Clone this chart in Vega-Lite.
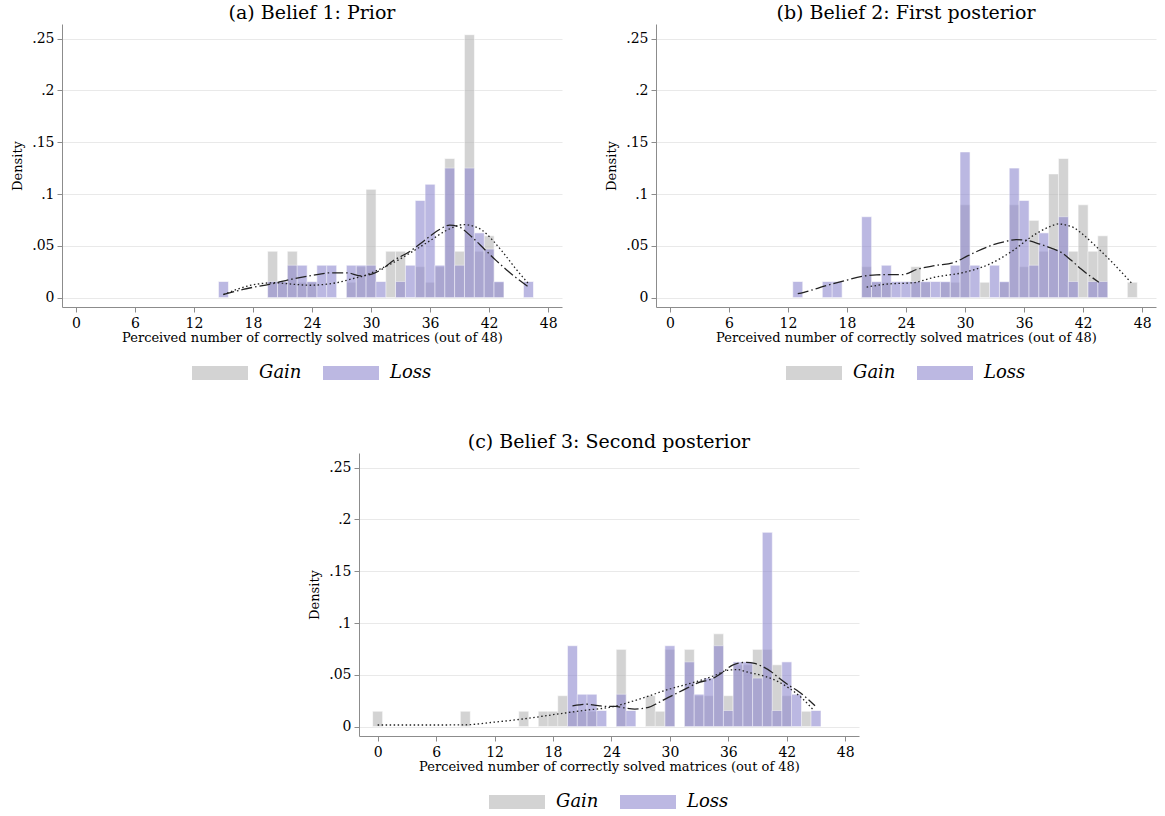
{
  "$schema": "https://vega.github.io/schema/vega-lite/v6.json",
  "padding": {"left": 11, "top": 4, "right": 5, "bottom": 5},
  "config": {
    "font": "DejaVu Serif",
    "view": {"stroke": null},
    "title": {"fontSize": 19, "fontWeight": "normal", "color": "#000", "offset": 1, "anchor": "middle"},
    "axis": {"domainColor": "#8c8c8c", "tickColor": "#8c8c8c", "tickSize": 5, "labelFontSize": 14, "labelColor": "#000", "titleFontSize": 13, "titleFontWeight": "normal", "titleColor": "#000", "labelFont": "DejaVu Serif", "titleFont": "DejaVu Serif"},
    "axisX": {"grid": false, "labelPadding": 4, "titlePadding": 1, "labelFlush": false},
    "axisY": {"grid": true, "gridColor": "#e9e9e9", "labelPadding": 3, "titlePadding": 7},
    "legend": {"layout": {"bottom": {"anchor": "middle"}}}
  },
  "datasets": {
    "bars": [
      {"p":"a","g":"Gain","k":20,"d":0.0448},{"p":"a","g":"Gain","k":21,"d":0.0149},{"p":"a","g":"Gain","k":22,"d":0.0448},{"p":"a","g":"Gain","k":23,"d":0.0149},{"p":"a","g":"Gain","k":24,"d":0.0149},{"p":"a","g":"Gain","k":28,"d":0.0149},{"p":"a","g":"Gain","k":29,"d":0.0299},{"p":"a","g":"Gain","k":30,"d":0.1045},{"p":"a","g":"Gain","k":32,"d":0.0448},{"p":"a","g":"Gain","k":33,"d":0.0448},{"p":"a","g":"Gain","k":35,"d":0.0299},{"p":"a","g":"Gain","k":36,"d":0.0149},{"p":"a","g":"Gain","k":37,"d":0.0299},{"p":"a","g":"Gain","k":38,"d":0.1343},{"p":"a","g":"Gain","k":39,"d":0.0448},{"p":"a","g":"Gain","k":40,"d":0.2537},{"p":"a","g":"Gain","k":41,"d":0.0448},{"p":"a","g":"Gain","k":42,"d":0.0597},{"p":"a","g":"Gain","k":43,"d":0.0149},
      {"p":"a","g":"Loss","k":15,"d":0.0156},{"p":"a","g":"Loss","k":20,"d":0.0156},{"p":"a","g":"Loss","k":21,"d":0.0156},{"p":"a","g":"Loss","k":22,"d":0.0313},{"p":"a","g":"Loss","k":23,"d":0.0313},{"p":"a","g":"Loss","k":24,"d":0.0156},{"p":"a","g":"Loss","k":25,"d":0.0313},{"p":"a","g":"Loss","k":26,"d":0.0313},{"p":"a","g":"Loss","k":28,"d":0.0313},{"p":"a","g":"Loss","k":29,"d":0.0313},{"p":"a","g":"Loss","k":30,"d":0.0313},{"p":"a","g":"Loss","k":31,"d":0.0156},{"p":"a","g":"Loss","k":33,"d":0.0156},{"p":"a","g":"Loss","k":34,"d":0.0313},{"p":"a","g":"Loss","k":35,"d":0.0938},{"p":"a","g":"Loss","k":36,"d":0.1094},{"p":"a","g":"Loss","k":37,"d":0.0313},{"p":"a","g":"Loss","k":38,"d":0.125},{"p":"a","g":"Loss","k":39,"d":0.0313},{"p":"a","g":"Loss","k":40,"d":0.125},{"p":"a","g":"Loss","k":41,"d":0.0625},{"p":"a","g":"Loss","k":42,"d":0.0469},{"p":"a","g":"Loss","k":43,"d":0.0156},{"p":"a","g":"Loss","k":46,"d":0.0156},
      {"p":"b","g":"Gain","k":20,"d":0.0299},{"p":"b","g":"Gain","k":21,"d":0.0149},{"p":"b","g":"Gain","k":22,"d":0.0149},{"p":"b","g":"Gain","k":25,"d":0.0299},{"p":"b","g":"Gain","k":26,"d":0.0149},{"p":"b","g":"Gain","k":28,"d":0.0149},{"p":"b","g":"Gain","k":29,"d":0.0149},{"p":"b","g":"Gain","k":30,"d":0.0896},{"p":"b","g":"Gain","k":32,"d":0.0149},{"p":"b","g":"Gain","k":34,"d":0.0149},{"p":"b","g":"Gain","k":35,"d":0.0896},{"p":"b","g":"Gain","k":36,"d":0.0299},{"p":"b","g":"Gain","k":37,"d":0.0746},{"p":"b","g":"Gain","k":38,"d":0.0448},{"p":"b","g":"Gain","k":39,"d":0.1194},{"p":"b","g":"Gain","k":40,"d":0.1343},{"p":"b","g":"Gain","k":41,"d":0.0448},{"p":"b","g":"Gain","k":42,"d":0.0896},{"p":"b","g":"Gain","k":43,"d":0.0448},{"p":"b","g":"Gain","k":44,"d":0.0597},{"p":"b","g":"Gain","k":47,"d":0.0149},
      {"p":"b","g":"Loss","k":13,"d":0.0156},{"p":"b","g":"Loss","k":16,"d":0.0156},{"p":"b","g":"Loss","k":17,"d":0.0156},{"p":"b","g":"Loss","k":20,"d":0.0781},{"p":"b","g":"Loss","k":21,"d":0.0156},{"p":"b","g":"Loss","k":22,"d":0.0313},{"p":"b","g":"Loss","k":23,"d":0.0156},{"p":"b","g":"Loss","k":24,"d":0.0156},{"p":"b","g":"Loss","k":25,"d":0.0156},{"p":"b","g":"Loss","k":26,"d":0.0156},{"p":"b","g":"Loss","k":27,"d":0.0156},{"p":"b","g":"Loss","k":28,"d":0.0156},{"p":"b","g":"Loss","k":29,"d":0.0313},{"p":"b","g":"Loss","k":30,"d":0.1406},{"p":"b","g":"Loss","k":31,"d":0.0313},{"p":"b","g":"Loss","k":33,"d":0.0313},{"p":"b","g":"Loss","k":34,"d":0.0156},{"p":"b","g":"Loss","k":35,"d":0.125},{"p":"b","g":"Loss","k":36,"d":0.0938},{"p":"b","g":"Loss","k":37,"d":0.0313},{"p":"b","g":"Loss","k":38,"d":0.0625},{"p":"b","g":"Loss","k":39,"d":0.0469},{"p":"b","g":"Loss","k":40,"d":0.0781},{"p":"b","g":"Loss","k":41,"d":0.0156},{"p":"b","g":"Loss","k":43,"d":0.0156},{"p":"b","g":"Loss","k":44,"d":0.0156},
      {"p":"c","g":"Gain","k":0,"d":0.0149},{"p":"c","g":"Gain","k":9,"d":0.0149},{"p":"c","g":"Gain","k":15,"d":0.0149},{"p":"c","g":"Gain","k":17,"d":0.0149},{"p":"c","g":"Gain","k":18,"d":0.0149},{"p":"c","g":"Gain","k":19,"d":0.0299},{"p":"c","g":"Gain","k":20,"d":0.0149},{"p":"c","g":"Gain","k":21,"d":0.0149},{"p":"c","g":"Gain","k":22,"d":0.0149},{"p":"c","g":"Gain","k":25,"d":0.0746},{"p":"c","g":"Gain","k":28,"d":0.0299},{"p":"c","g":"Gain","k":29,"d":0.0149},{"p":"c","g":"Gain","k":30,"d":0.0746},{"p":"c","g":"Gain","k":32,"d":0.0746},{"p":"c","g":"Gain","k":33,"d":0.0299},{"p":"c","g":"Gain","k":34,"d":0.0299},{"p":"c","g":"Gain","k":35,"d":0.0896},{"p":"c","g":"Gain","k":36,"d":0.0299},{"p":"c","g":"Gain","k":37,"d":0.0597},{"p":"c","g":"Gain","k":38,"d":0.0597},{"p":"c","g":"Gain","k":39,"d":0.0746},{"p":"c","g":"Gain","k":40,"d":0.0746},{"p":"c","g":"Gain","k":41,"d":0.0597},{"p":"c","g":"Gain","k":42,"d":0.0299},{"p":"c","g":"Gain","k":44,"d":0.0149},
      {"p":"c","g":"Loss","k":20,"d":0.0781},{"p":"c","g":"Loss","k":21,"d":0.0313},{"p":"c","g":"Loss","k":22,"d":0.0313},{"p":"c","g":"Loss","k":23,"d":0.0156},{"p":"c","g":"Loss","k":25,"d":0.0313},{"p":"c","g":"Loss","k":26,"d":0.0156},{"p":"c","g":"Loss","k":30,"d":0.0781},{"p":"c","g":"Loss","k":32,"d":0.0625},{"p":"c","g":"Loss","k":33,"d":0.0313},{"p":"c","g":"Loss","k":34,"d":0.0469},{"p":"c","g":"Loss","k":35,"d":0.0781},{"p":"c","g":"Loss","k":36,"d":0.0156},{"p":"c","g":"Loss","k":37,"d":0.0625},{"p":"c","g":"Loss","k":38,"d":0.0625},{"p":"c","g":"Loss","k":39,"d":0.0469},{"p":"c","g":"Loss","k":40,"d":0.1875},{"p":"c","g":"Loss","k":41,"d":0.0156},{"p":"c","g":"Loss","k":42,"d":0.0625},{"p":"c","g":"Loss","k":43,"d":0.0313},{"p":"c","g":"Loss","k":45,"d":0.0156}
    ],
    "kde": [
      {"p":"a","g":"Gain","x":15,"y":0.003},{"p":"a","g":"Gain","x":17.8,"y":0.012},{"p":"a","g":"Gain","x":20.2,"y":0.0144},{"p":"a","g":"Gain","x":22,"y":0.013},{"p":"a","g":"Gain","x":23.8,"y":0.012},{"p":"a","g":"Gain","x":25.5,"y":0.013},{"p":"a","g":"Gain","x":26.8,"y":0.015},{"p":"a","g":"Gain","x":28,"y":0.018},{"p":"a","g":"Gain","x":29.4,"y":0.0215},{"p":"a","g":"Gain","x":31,"y":0.028},{"p":"a","g":"Gain","x":32.7,"y":0.036},{"p":"a","g":"Gain","x":34.3,"y":0.045},{"p":"a","g":"Gain","x":36,"y":0.055},{"p":"a","g":"Gain","x":37.7,"y":0.065},{"p":"a","g":"Gain","x":39.4,"y":0.0705},{"p":"a","g":"Gain","x":40.4,"y":0.069},{"p":"a","g":"Gain","x":41.3,"y":0.065},{"p":"a","g":"Gain","x":42.3,"y":0.056},{"p":"a","g":"Gain","x":43.3,"y":0.045},{"p":"a","g":"Gain","x":44.7,"y":0.028},{"p":"a","g":"Gain","x":46,"y":0.0135},
      {"p":"a","g":"Loss","x":15,"y":0.003},{"p":"a","g":"Loss","x":17,"y":0.008},{"p":"a","g":"Loss","x":20,"y":0.0135},{"p":"a","g":"Loss","x":22,"y":0.018},{"p":"a","g":"Loss","x":24,"y":0.0215},{"p":"a","g":"Loss","x":26,"y":0.024},{"p":"a","g":"Loss","x":27.5,"y":0.024},{"p":"a","g":"Loss","x":29,"y":0.021},{"p":"a","g":"Loss","x":30.4,"y":0.024},{"p":"a","g":"Loss","x":31.2,"y":0.028},{"p":"a","g":"Loss","x":32,"y":0.034},{"p":"a","g":"Loss","x":34,"y":0.045},{"p":"a","g":"Loss","x":35.4,"y":0.055},{"p":"a","g":"Loss","x":37,"y":0.066},{"p":"a","g":"Loss","x":38,"y":0.07},{"p":"a","g":"Loss","x":39,"y":0.068},{"p":"a","g":"Loss","x":40.3,"y":0.058},{"p":"a","g":"Loss","x":41.5,"y":0.047},{"p":"a","g":"Loss","x":42.7,"y":0.036},{"p":"a","g":"Loss","x":44,"y":0.025},{"p":"a","g":"Loss","x":46,"y":0.0103},
      {"p":"b","g":"Gain","x":20,"y":0.0102},{"p":"b","g":"Gain","x":22.3,"y":0.0133},{"p":"b","g":"Gain","x":24.6,"y":0.0143},{"p":"b","g":"Gain","x":26.9,"y":0.0197},{"p":"b","g":"Gain","x":29.9,"y":0.0244},{"p":"b","g":"Gain","x":32.5,"y":0.0324},{"p":"b","g":"Gain","x":34.8,"y":0.045},{"p":"b","g":"Gain","x":37.1,"y":0.061},{"p":"b","g":"Gain","x":38.5,"y":0.068},{"p":"b","g":"Gain","x":39.5,"y":0.0711},{"p":"b","g":"Gain","x":40.3,"y":0.07},{"p":"b","g":"Gain","x":41.1,"y":0.0673},{"p":"b","g":"Gain","x":42.1,"y":0.06},{"p":"b","g":"Gain","x":43.1,"y":0.0514},{"p":"b","g":"Gain","x":44.8,"y":0.0356},{"p":"b","g":"Gain","x":46.9,"y":0.0143},
      {"p":"b","g":"Loss","x":13,"y":0.0038},{"p":"b","g":"Loss","x":14.3,"y":0.007},{"p":"b","g":"Loss","x":15.6,"y":0.0108},{"p":"b","g":"Loss","x":17.6,"y":0.016},{"p":"b","g":"Loss","x":19.6,"y":0.0206},{"p":"b","g":"Loss","x":21,"y":0.022},{"p":"b","g":"Loss","x":22.3,"y":0.0222},{"p":"b","g":"Loss","x":23.6,"y":0.0222},{"p":"b","g":"Loss","x":25.2,"y":0.0276},{"p":"b","g":"Loss","x":27,"y":0.031},{"p":"b","g":"Loss","x":28.9,"y":0.034},{"p":"b","g":"Loss","x":30.2,"y":0.04},{"p":"b","g":"Loss","x":31.3,"y":0.045},{"p":"b","g":"Loss","x":32.5,"y":0.0498},{"p":"b","g":"Loss","x":34,"y":0.054},{"p":"b","g":"Loss","x":35.2,"y":0.056},{"p":"b","g":"Loss","x":36.4,"y":0.055},{"p":"b","g":"Loss","x":37.5,"y":0.052},{"p":"b","g":"Loss","x":38.7,"y":0.048},{"p":"b","g":"Loss","x":39.8,"y":0.0435},{"p":"b","g":"Loss","x":40.8,"y":0.036},{"p":"b","g":"Loss","x":41.8,"y":0.0276},{"p":"b","g":"Loss","x":43.6,"y":0.0149},
      {"p":"c","g":"Gain","x":0,"y":0.0016},{"p":"c","g":"Gain","x":3,"y":0.0016},{"p":"c","g":"Gain","x":6,"y":0.0016},{"p":"c","g":"Gain","x":9,"y":0.0018},{"p":"c","g":"Gain","x":12,"y":0.0044},{"p":"c","g":"Gain","x":15,"y":0.0075},{"p":"c","g":"Gain","x":19,"y":0.0129},{"p":"c","g":"Gain","x":21.5,"y":0.016},{"p":"c","g":"Gain","x":23.8,"y":0.0186},{"p":"c","g":"Gain","x":26.8,"y":0.0264},{"p":"c","g":"Gain","x":29.8,"y":0.0358},{"p":"c","g":"Gain","x":32.8,"y":0.0437},{"p":"c","g":"Gain","x":34.5,"y":0.049},{"p":"c","g":"Gain","x":36.1,"y":0.0547},{"p":"c","g":"Gain","x":37,"y":0.055},{"p":"c","g":"Gain","x":37.8,"y":0.053},{"p":"c","g":"Gain","x":39.8,"y":0.0484},{"p":"c","g":"Gain","x":41,"y":0.044},{"p":"c","g":"Gain","x":42.2,"y":0.0374},{"p":"c","g":"Gain","x":43.5,"y":0.028},{"p":"c","g":"Gain","x":44.8,"y":0.0154},
      {"p":"c","g":"Loss","x":20,"y":0.0201},{"p":"c","g":"Loss","x":20.7,"y":0.021},{"p":"c","g":"Loss","x":21.4,"y":0.0217},{"p":"c","g":"Loss","x":22.1,"y":0.021},{"p":"c","g":"Loss","x":22.8,"y":0.0201},{"p":"c","g":"Loss","x":23.6,"y":0.0195},{"p":"c","g":"Loss","x":24.4,"y":0.0195},{"p":"c","g":"Loss","x":25.4,"y":0.018},{"p":"c","g":"Loss","x":26.4,"y":0.017},{"p":"c","g":"Loss","x":27.8,"y":0.0186},{"p":"c","g":"Loss","x":28.8,"y":0.023},{"p":"c","g":"Loss","x":29.8,"y":0.028},{"p":"c","g":"Loss","x":31.3,"y":0.035},{"p":"c","g":"Loss","x":32.8,"y":0.042},{"p":"c","g":"Loss","x":34.5,"y":0.047},{"p":"c","g":"Loss","x":35.5,"y":0.053},{"p":"c","g":"Loss","x":36.5,"y":0.0597},{"p":"c","g":"Loss","x":37.8,"y":0.062},{"p":"c","g":"Loss","x":38.7,"y":0.061},{"p":"c","g":"Loss","x":39.5,"y":0.058},{"p":"c","g":"Loss","x":40.4,"y":0.053},{"p":"c","g":"Loss","x":41.2,"y":0.047},{"p":"c","g":"Loss","x":42.2,"y":0.04},{"p":"c","g":"Loss","x":43.2,"y":0.034},{"p":"c","g":"Loss","x":44.9,"y":0.0201}
    ]
  },
  "resolve": {"scale": {"color": "independent", "strokeDash": "independent"}, "legend": {"color": "independent"}},
  "vconcat": [
    {
      "hconcat": [
        {
          "width": 500, "height": 283,
          "title": "(a) Belief 1: Prior",
          "layer": [
            {"data": {"name": "bars"}, "transform": [{"filter": "datum.p == 'a'"}],
             "mark": {"type": "bar", "width": 10.04, "opacity": 0.6, "stroke": "white", "strokeWidth": 0.6},
             "encoding": {
               "x": {"field": "k", "type": "quantitative", "scale": {"domain": [-0.9, 48.9], "nice": false, "zero": false}, "axis": {"values": [0,6,12,18,24,30,36,42,48], "title": "Perceived number of correctly solved matrices (out of 48)"}},
               "y": {"field": "d", "type": "quantitative", "stack": null, "scale": {"domain": [-0.009, 0.264], "nice": false, "zero": false}, "axis": {"values": [0,0.05,0.1,0.15,0.2,0.25], "title": "Density", "labelExpr": "datum.value == 0 ? '0' : replace(format(datum.value, '.2~f'), '0.', '.')"}},
               "y2": {"datum": 0},
               "color": {"field": "g", "type": "nominal", "scale": {"domain": ["Gain", "Loss"], "range": ["#b6b6b6", "#8f89cf"]},
                 "legend": {"orient": "bottom", "direction": "horizontal", "title": null, "labelFontStyle": "italic", "labelFontSize": 18, "labelColor": "#000", "symbolType": "M-1,-0.25L1,-0.25L1,0.25L-1,0.25Z", "symbolSize": 3136, "symbolOpacity": 0.6, "symbolStrokeWidth": 0, "labelOffset": 11, "columnPadding": 21, "offset": 1}}
             }},
            {"data": {"name": "kde"}, "transform": [{"filter": "datum.p == 'a'"}],
             "mark": {"type": "line", "interpolate": "monotone", "color": "#222", "strokeWidth": 1.3},
             "encoding": {
               "x": {"field": "x", "type": "quantitative"},
               "y": {"field": "y", "type": "quantitative"},
               "detail": {"field": "g"},
               "strokeDash": {"field": "g", "type": "nominal", "scale": {"domain": ["Gain", "Loss"], "range": [[1.5, 2.5], [11, 3, 1.5, 3]]}, "legend": null}
             }}
          ]
        },
        {
          "width": 500, "height": 283,
          "title": "(b) Belief 2: First posterior",
          "layer": [
            {"data": {"name": "bars"}, "transform": [{"filter": "datum.p == 'b'"}],
             "mark": {"type": "bar", "width": 10.04, "opacity": 0.6, "stroke": "white", "strokeWidth": 0.6},
             "encoding": {
               "x": {"field": "k", "type": "quantitative", "scale": {"domain": [-0.9, 48.9], "nice": false, "zero": false}, "axis": {"values": [0,6,12,18,24,30,36,42,48], "title": "Perceived number of correctly solved matrices (out of 48)"}},
               "y": {"field": "d", "type": "quantitative", "stack": null, "scale": {"domain": [-0.009, 0.264], "nice": false, "zero": false}, "axis": {"values": [0,0.05,0.1,0.15,0.2,0.25], "title": "Density", "labelExpr": "datum.value == 0 ? '0' : replace(format(datum.value, '.2~f'), '0.', '.')"}},
               "y2": {"datum": 0},
               "color": {"field": "g", "type": "nominal", "scale": {"domain": ["Gain", "Loss"], "range": ["#b6b6b6", "#8f89cf"]},
                 "legend": {"orient": "bottom", "direction": "horizontal", "title": null, "labelFontStyle": "italic", "labelFontSize": 18, "labelColor": "#000", "symbolType": "M-1,-0.25L1,-0.25L1,0.25L-1,0.25Z", "symbolSize": 3136, "symbolOpacity": 0.6, "symbolStrokeWidth": 0, "labelOffset": 11, "columnPadding": 21, "offset": 1}}
             }},
            {"data": {"name": "kde"}, "transform": [{"filter": "datum.p == 'b'"}],
             "mark": {"type": "line", "interpolate": "monotone", "color": "#222", "strokeWidth": 1.3},
             "encoding": {
               "x": {"field": "x", "type": "quantitative"},
               "y": {"field": "y", "type": "quantitative"},
               "detail": {"field": "g"},
               "strokeDash": {"field": "g", "type": "nominal", "scale": {"domain": ["Gain", "Loss"], "range": [[1.5, 2.5], [11, 3, 1.5, 3]]}, "legend": null}
             }}
          ]
        }
      ],
      "spacing": 43,
      "resolve": {"scale": {"color": "independent", "strokeDash": "independent"}, "legend": {"color": "independent"}}
    },
    {
      "width": 500, "height": 283,
      "title": "(c) Belief 3: Second posterior",
      "layer": [
        {"data": {"name": "bars"}, "transform": [{"filter": "datum.p == 'c'"}],
         "mark": {"type": "bar", "width": 10.04, "opacity": 0.6, "stroke": "white", "strokeWidth": 0.6},
         "encoding": {
           "x": {"field": "k", "type": "quantitative", "scale": {"domain": [-1.4, 48.9], "nice": false, "zero": false}, "axis": {"values": [0,6,12,18,24,30,36,42,48], "title": "Perceived number of correctly solved matrices (out of 48)"}},
           "y": {"field": "d", "type": "quantitative", "stack": null, "scale": {"domain": [-0.009, 0.264], "nice": false, "zero": false}, "axis": {"values": [0,0.05,0.1,0.15,0.2,0.25], "title": "Density", "labelExpr": "datum.value == 0 ? '0' : replace(format(datum.value, '.2~f'), '0.', '.')"}},
           "y2": {"datum": 0},
           "color": {"field": "g", "type": "nominal", "scale": {"domain": ["Gain", "Loss"], "range": ["#b6b6b6", "#8f89cf"]},
             "legend": {"orient": "bottom", "direction": "horizontal", "title": null, "labelFontStyle": "italic", "labelFontSize": 18, "labelColor": "#000", "symbolType": "M-1,-0.25L1,-0.25L1,0.25L-1,0.25Z", "symbolSize": 3136, "symbolOpacity": 0.6, "symbolStrokeWidth": 0, "labelOffset": 11, "columnPadding": 21, "offset": 1}}
         }},
        {"data": {"name": "kde"}, "transform": [{"filter": "datum.p == 'c'"}],
         "mark": {"type": "line", "interpolate": "monotone", "color": "#222", "strokeWidth": 1.3},
         "encoding": {
           "x": {"field": "x", "type": "quantitative"},
           "y": {"field": "y", "type": "quantitative"},
           "detail": {"field": "g"},
           "strokeDash": {"field": "g", "type": "nominal", "scale": {"domain": ["Gain", "Loss"], "range": [[1.5, 2.5], [11, 3, 1.5, 3]]}, "legend": null}
         }}
      ]
    }
  ],
  "spacing": 51,
  "center": true
}
